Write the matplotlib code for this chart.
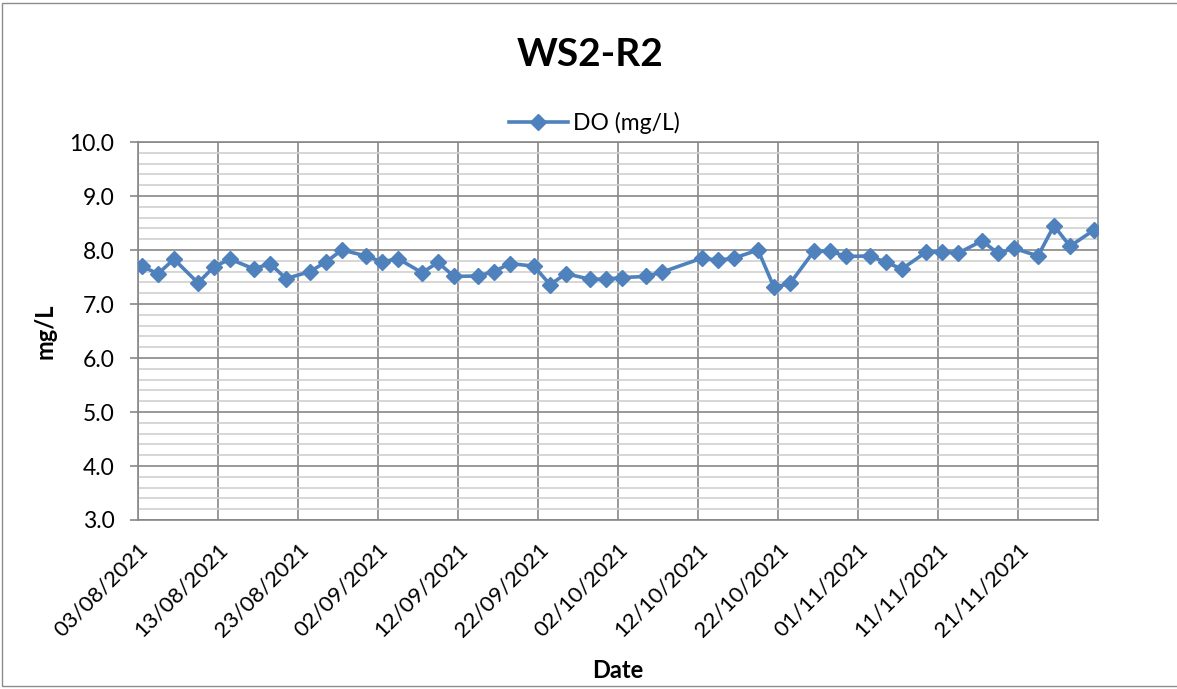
import matplotlib
matplotlib.use("Agg")
import matplotlib.pyplot as plt
import matplotlib.dates as mdates
from matplotlib.lines import Line2D
from matplotlib.patches import Rectangle
import numpy as np
import pandas as pd

# Dissolved oxygen readings at site WS2-R2
sample_dates = [
    "03/08/2021", "05/08/2021", "07/08/2021", "10/08/2021", "12/08/2021",
    "14/08/2021", "17/08/2021", "19/08/2021", "21/08/2021", "24/08/2021",
    "26/08/2021", "28/08/2021", "31/08/2021", "02/09/2021", "04/09/2021",
    "07/09/2021", "09/09/2021", "11/09/2021", "14/09/2021", "16/09/2021",
    "18/09/2021", "21/09/2021", "23/09/2021", "25/09/2021", "28/09/2021",
    "30/09/2021", "02/10/2021", "05/10/2021", "07/10/2021", "12/10/2021",
    "14/10/2021", "16/10/2021", "19/10/2021", "21/10/2021", "23/10/2021",
    "26/10/2021", "28/10/2021", "30/10/2021", "02/11/2021", "04/11/2021",
    "06/11/2021", "09/11/2021", "11/11/2021", "13/11/2021", "16/11/2021",
    "18/11/2021", "20/11/2021", "23/11/2021", "25/11/2021", "27/11/2021",
    "30/11/2021",
]
do_values = [
    7.70, 7.56, 7.83, 7.39, 7.69, 7.83, 7.65, 7.75, 7.47, 7.60,
    7.78, 8.00, 7.89, 7.78, 7.84, 7.58, 7.77, 7.51, 7.52, 7.60,
    7.75, 7.70, 7.36, 7.56, 7.46, 7.46, 7.49, 7.51, 7.59, 7.85,
    7.81, 7.85, 8.00, 7.31, 7.38, 7.98, 7.98, 7.88, 7.89, 7.77,
    7.65, 7.96, 7.97, 7.94, 8.17, 7.94, 8.03, 7.89, 8.45, 8.07,
    8.37,
]
tick_labels = [
    "03/08/2021", "13/08/2021", "23/08/2021", "02/09/2021", "12/09/2021",
    "22/09/2021", "02/10/2021", "12/10/2021", "22/10/2021", "01/11/2021",
    "11/11/2021", "21/11/2021",
]
axis_start = "03/08/2021"
axis_end = "01/12/2021"

FONT = ["Lato", "DejaVu Sans"]
plt.rcParams["font.family"] = FONT

LINE_BLUE = "#4F81BD"
MAJOR_GREY = "#878787"
MINOR_GREY = "#D0D0D0"

dates = pd.to_datetime(sample_dates, format="%d/%m/%Y")
# each reading sits in the middle of its day slot
x = mdates.date2num(dates) + 0.5
ticks = mdates.date2num(pd.to_datetime(tick_labels, format="%d/%m/%Y"))
x0 = mdates.date2num(pd.to_datetime(axis_start, format="%d/%m/%Y"))
x1 = mdates.date2num(pd.to_datetime(axis_end, format="%d/%m/%Y"))

fig = plt.figure(figsize=(11.77, 6.89), dpi=100)
fig.patches.append(Rectangle((2 / 1177, 3 / 689), 1.2, 683 / 689,
                             transform=fig.transFigure, fill=False,
                             edgecolor="#8C8C8C", linewidth=1.0))

ax = fig.add_axes([138 / 1177, 1 - 520 / 689, 960 / 1177, 378 / 689])

ax.plot(x, do_values, color=LINE_BLUE, linewidth=2.6, marker="D",
        markersize=8, markerfacecolor=LINE_BLUE, markeredgecolor=LINE_BLUE,
        zorder=3)

ax.set_xlim(x0, x1)
ax.set_ylim(3.0, 10.0)

ax.set_xticks(ticks)
ax.set_xticklabels(tick_labels, rotation=45, ha="right", va="top",
                   rotation_mode="anchor", fontsize=16)
ax.set_yticks(np.arange(3.0, 10.01, 1.0))
ax.set_yticklabels([f"{v:.1f}" for v in np.arange(3.0, 10.01, 1.0)], fontsize=16.5)
ax.set_yticks(np.arange(3.0, 10.01, 0.2), minor=True)

ax.tick_params(axis="x", which="both", length=0, pad=14)
ax.tick_params(axis="y", which="major", length=6, width=1.2, color=MAJOR_GREY, pad=11)
ax.tick_params(axis="y", which="minor", length=0)

ax.grid(True, axis="y", which="minor", color=MINOR_GREY, linewidth=1.2, zorder=0)
ax.grid(True, axis="y", which="major", color=MAJOR_GREY, linewidth=1.2, zorder=1)
ax.grid(True, axis="x", which="major", color=MAJOR_GREY, linewidth=1.2, zorder=1)
ax.set_axisbelow(True)

for s in ax.spines.values():
    s.set_color(MAJOR_GREY)
    s.set_linewidth(1.2)

ax.set_ylabel("mg/L", fontsize=17, fontweight="bold", va="center")
ax.yaxis.set_label_coords((45 - 138) / 960, 0.5)
ax.set_xlabel("Date", fontsize=17, fontweight="bold", va="center")
ax.xaxis.set_label_coords((618 - 138) / 960, (520 - 670) / 378)

fig.text(590 / 1177, 1 - 55 / 689, "WS2-R2", ha="center", va="center",
         fontsize=28, fontweight="bold")

handle = Line2D([], [], color=LINE_BLUE, linewidth=2.6, marker="D",
                markersize=8, markerfacecolor=LINE_BLUE,
                markeredgecolor=LINE_BLUE)
fig.legend([handle], ["DO (mg/L)"], loc="center",
           bbox_to_anchor=(594 / 1177, 1 - 123 / 689), frameon=False,
           fontsize=16.5, handlelength=2.6, handletextpad=0.2)

fig.savefig("out.png", dpi=100)
